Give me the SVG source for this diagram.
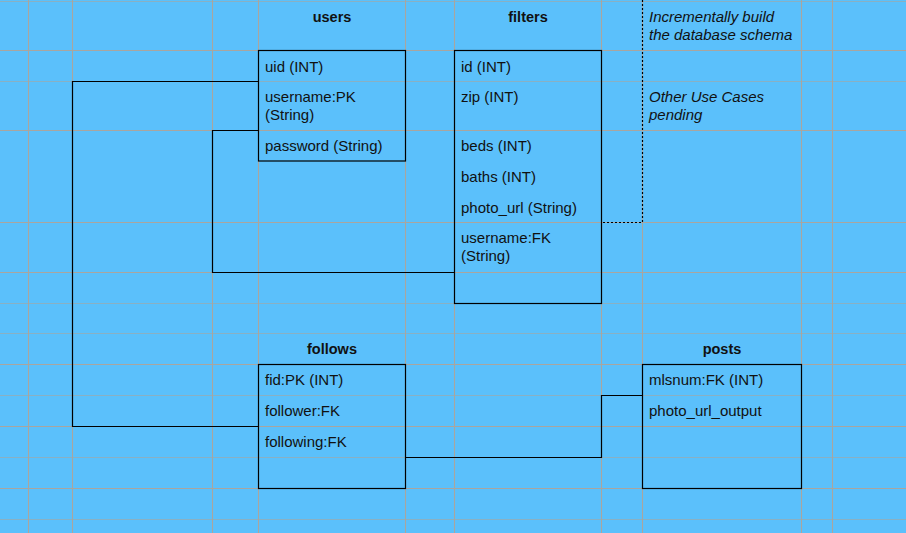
<svg xmlns="http://www.w3.org/2000/svg" width="906" height="533" viewBox="0 0 906 533">
<style>
.grid line{stroke:#a9a59f;stroke-width:1.1}
.grid line.m{stroke-width:1;stroke-opacity:0.6}
.box{fill:none;stroke:#000;stroke-width:1.2}
.conn path{fill:none;stroke:#000;stroke-width:1.2}
.dot{fill:none;stroke:#000;stroke-width:1.2;stroke-dasharray:2 2}
text{font-family:"Liberation Sans",Arial,Helvetica,sans-serif;fill:#111}
.f{font-size:15px}
.h{font-size:14.5px;font-weight:bold;text-anchor:middle}
.n{font-size:15px;font-style:italic}
</style>
<rect x="0" y="0" width="906" height="533" fill="#5bc0fb"/>
<g class="grid">
<line x1="28.5" y1="0" x2="28.5" y2="533"/>
<line x1="72.5" y1="0" x2="72.5" y2="533"/>
<line x1="212.5" y1="0" x2="212.5" y2="533"/>
<line x1="258.5" y1="0" x2="258.5" y2="533"/>
<line x1="405.5" y1="0" x2="405.5" y2="533"/>
<line x1="454.5" y1="0" x2="454.5" y2="533"/>
<line x1="601.5" y1="0" x2="601.5" y2="533"/>
<line x1="642.5" y1="0" x2="642.5" y2="533"/>
<line x1="801.5" y1="0" x2="801.5" y2="533"/>
<line x1="832.5" y1="0" x2="832.5" y2="533"/>
<line class="m" x1="0" y1="1.5" x2="906" y2="1.5"/>
<line x1="0" y1="50.5" x2="906" y2="50.5"/>
<line class="m" x1="0" y1="81.5" x2="906" y2="81.5"/>
<line x1="0" y1="130.5" x2="906" y2="130.5"/>
<line x1="0" y1="222.5" x2="906" y2="222.5"/>
<line x1="0" y1="272.5" x2="906" y2="272.5"/>
<line class="m" x1="0" y1="303.5" x2="906" y2="303.5"/>
<line class="m" x1="0" y1="333.5" x2="906" y2="333.5"/>
<line x1="0" y1="364.5" x2="906" y2="364.5"/>
<line class="m" x1="0" y1="395.5" x2="906" y2="395.5"/>
<line x1="0" y1="426.5" x2="906" y2="426.5"/>
<line class="m" x1="0" y1="457.5" x2="906" y2="457.5"/>
<line x1="0" y1="488.5" x2="906" y2="488.5"/>
<line class="m" x1="0" y1="519.5" x2="906" y2="519.5"/>
</g>
<g id="connectors" class="conn">
<path d="M258.5,81.5 H72.5 V426.5 H258.5"/>
<path d="M258.5,130.5 H212.5 V272.5 H454.5"/>
<path d="M405.5,457.5 H601.5 V395.5 H642.5"/>
</g>
<g id="users">
<text class="h" x="332" y="22">users</text>
<rect class="box" x="258.5" y="50.5" width="147" height="110.5"/>
<text class="f" x="265" y="71.5">uid (INT)</text>
<text class="f" x="265" y="102">username:PK</text>
<text class="f" x="265" y="119.5">(String)</text>
<text class="f" x="265" y="151">password (String)</text>
</g>
<g id="filters">
<text class="h" x="528" y="22">filters</text>
<rect class="box" x="454.5" y="50.5" width="147" height="253"/>
<text class="f" x="461" y="71.5">id (INT)</text>
<text class="f" x="461" y="102">zip (INT)</text>
<text class="f" x="461" y="151">beds (INT)</text>
<text class="f" x="461" y="182">baths (INT)</text>
<text class="f" x="461" y="212.5">photo_url (String)</text>
<text class="f" x="461" y="243">username:FK</text>
<text class="f" x="461" y="260.5">(String)</text>
</g>
<g id="follows">
<text class="h" x="332" y="354">follows</text>
<rect class="box" x="258.5" y="364.5" width="147" height="124"/>
<text class="f" x="265" y="385">fid:PK (INT)</text>
<text class="f" x="265" y="416">follower:FK</text>
<text class="f" x="265" y="446.5">following:FK</text>
</g>
<g id="posts">
<text class="h" x="722" y="354">posts</text>
<rect class="box" x="642.5" y="364.5" width="159" height="124"/>
<text class="f" x="649" y="385">mlsnum:FK (INT)</text>
<text class="f" x="649" y="416">photo_url_output</text>
</g>
<g id="note">
<path class="dot" d="M642.5,0 V222.5 H601.5"/>
<text class="n" x="649" y="22">Incrementally build</text>
<text class="n" x="649" y="39.5">the database schema</text>
<text class="n" x="649" y="102">Other Use Cases</text>
<text class="n" x="649" y="119.5">pending</text>
</g>
</svg>
